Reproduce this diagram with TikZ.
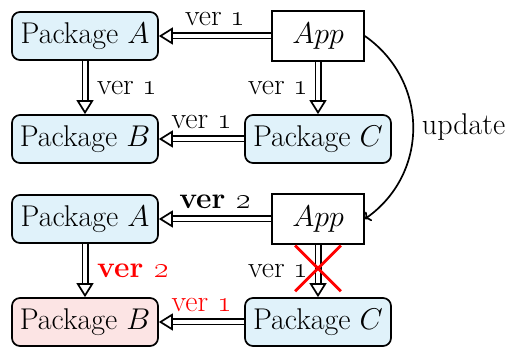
\RequirePackage{fix-cm}
\documentclass[tikz,border=0pt]{standalone}
\usetikzlibrary{arrows.meta,calc,shapes.misc}
\definecolor{pkgblue}{RGB}{224,242,250}
\definecolor{pkgred}{RGB}{252,228,228}
\definecolor{xred}{RGB}{255,0,0}
\tikzset{
 pkg/.style={draw, line width=1.7pt, rounded corners=8pt, fill=pkgblue, minimum width=146pt, minimum height=48pt, inner sep=0pt},
 pkgbad/.style={pkg, fill=pkgred},
 appbox/.style={draw, line width=1.7pt, fill=white, minimum width=92pt, minimum height=50pt, inner sep=0pt},
 shaft/.style={draw, line width=1.7pt, double=white, double distance=3.6pt},
 tiphead/.style={line width=1.7pt, -{Triangle[fill=white, length=14pt, width=17pt]}},
 lbl/.style={inner sep=2pt},
 updarrow/.style={line width=1.7pt, ->},
 crossx/.style={cross out, draw=xred, line width=2.8pt, minimum size=43pt, inner sep=0pt},
}
\newcommand\ddarrow[3]{%
  \draw[shaft] (#1) -- ($(#2)!12pt!(#1)$);
  \draw[tiphead] ($(#2)!14pt!(#1)$) -- (#2);
  \path (#1) -- (#2) #3;
}
\begin{document}
\begin{tikzpicture}[x=1pt,y=1pt,font=\fontsize{30}{34}\selectfont]
\useasboundingbox (0,0) rectangle (511,350);
% top
\node[pkg] (pa1) at (85,314) {Package $A$};
\node[appbox] (app1) at (318,314) {$App$};
\node[pkg] (pb1) at (85,211) {Package $B$};
\node[pkg] (pc1) at (318,211) {Package $C$};
% bottom
\node[pkg] (pa2) at (85,131) {Package $A$};
\node[appbox] (app2) at (318,131) {$App$};
\node[pkgbad] (pb2) at (85,28) {Package $B$};
\node[pkg] (pc2) at (318,28) {Package $C$};
% top arrows
\ddarrow{app1.west}{pa1.east}{node[lbl, midway, above=8pt]{ver \oldstylenums{1}}}
\ddarrow{pa1.south}{pb1.north}{node[lbl, midway, right=10pt]{ver \oldstylenums{1}}}
\ddarrow{app1.south}{pc1.north}{node[lbl, midway, left=8pt]{ver \oldstylenums{1}}}
\ddarrow{pc1.west}{pb1.east}{node[lbl, midway, above=8pt]{ver \oldstylenums{1}}}
% update
\draw[updarrow] (app1.east) to[out=-35,in=35,looseness=1.1] node[lbl, midway, right=6pt]{update} (app2.east);
% bottom arrows
\ddarrow{app2.west}{pa2.east}{node[lbl, midway, above=8pt]{\textbf{ver \oldstylenums{2}}}}
\ddarrow{pa2.south}{pb2.north}{node[lbl, midway, right=10pt, text=xred]{\textbf{ver \oldstylenums{2}}}}
\ddarrow{app2.south}{pc2.north}{node[lbl, midway, left=8pt]{ver \oldstylenums{1}} node[crossx, pos=0.45]{}}
\ddarrow{pc2.west}{pb2.east}{node[lbl, midway, above=8pt, text=xred]{ver \oldstylenums{1}}}
\end{tikzpicture}
\end{document}
